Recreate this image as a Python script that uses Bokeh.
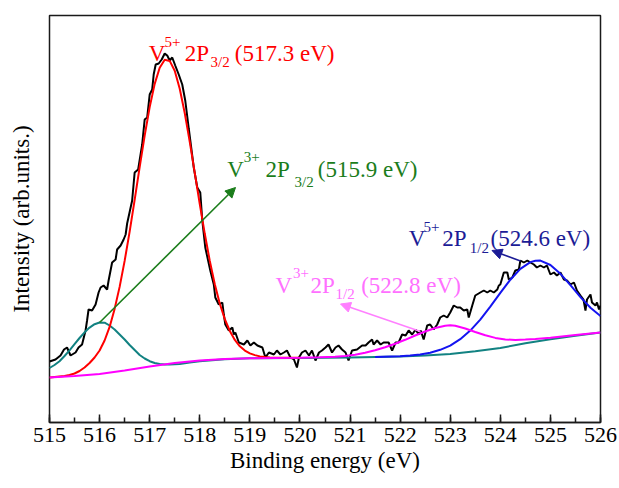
from bokeh.plotting import figure
from bokeh.models import Label, Arrow, NormalHead, SingleIntervalTicker, FixedTicker, Range1d
from bokeh.embed import file_html
from bokeh.resources import INLINE

# ---------------- data ----------------
# Experimental V 2p spectrum: binding energy (eV) / intensity (arb. units)
exp_energy = [515.00, 515.12, 515.22, 515.29, 515.35, 515.42, 515.52, 515.58, 515.65, 515.72,
              515.75, 515.78, 515.85, 515.92, 515.98, 516.02, 516.08, 516.15, 516.18, 516.25,
              516.32, 516.35, 516.42, 516.48, 516.52, 516.55, 516.65, 516.70, 516.77, 516.85,
              516.90, 516.95, 517.00, 517.05, 517.08, 517.12, 517.18, 517.24, 517.30, 517.35,
              517.40, 517.45, 517.51, 517.58, 517.65, 517.71, 517.78, 517.88, 517.95, 518.01,
              518.05, 518.11, 518.21, 518.28, 518.31, 518.38, 518.45, 518.48, 518.51, 518.58,
              518.65, 518.68, 518.71, 518.78, 518.88, 518.95, 519.01, 519.08, 519.15, 519.25,
              519.31, 519.38, 519.48, 519.54, 519.61, 519.68, 519.74, 519.81, 519.88, 519.94,
              519.98, 520.04, 520.11, 520.18, 520.24, 520.31, 520.38, 520.44, 520.51, 520.57,
              520.64, 520.71, 520.77, 520.84, 520.91, 520.97, 521.04, 521.14, 521.24, 521.31,
              521.37, 521.44, 521.47, 521.54, 521.61, 521.67, 521.77, 521.84, 521.91, 521.97,
              522.04, 522.11, 522.17, 522.24, 522.31, 522.37, 522.41, 522.47, 522.54, 522.60,
              522.67, 522.74, 522.80, 522.87, 522.94, 523.00, 523.07, 523.14, 523.20, 523.27,
              523.34, 523.37, 523.44, 523.50, 523.60, 523.67, 523.74, 523.80, 523.87, 523.94,
              523.97, 524.00, 524.07, 524.14, 524.17, 524.24, 524.30, 524.37, 524.40, 524.47,
              524.54, 524.60, 524.67, 524.73, 524.80, 524.87, 524.93, 525.00, 525.07, 525.13,
              525.20, 525.27, 525.33, 525.40, 525.47, 525.53, 525.60, 525.66, 525.70, 525.73,
              525.80, 525.83, 525.90, 525.93, 525.97, 526.00]
exp_intensity = [61, 63, 67, 73, 75, 67, 70, 75, 78, 92,
                 102, 113, 112, 118, 130, 135, 137, 133, 142, 160,
                 163, 173, 177, 183, 188, 199, 222, 250, 253, 278,
                 303, 305, 328, 333, 348, 358, 359, 363, 369, 367,
                 362, 365, 357, 348, 338, 322, 294, 255, 235, 230,
                 202, 175, 152, 138, 125, 118, 120, 108, 98, 92,
                 95, 88, 90, 80, 78, 82, 77, 80, 77, 75,
                 65, 70, 68, 72, 68, 70, 72, 65, 63, 55,
                 65, 70, 72, 67, 72, 62, 70, 72, 75, 78,
                 70, 75, 77, 73, 70, 62, 72, 73, 77, 77,
                 80, 83, 78, 82, 78, 80, 80, 72, 80, 80,
                 88, 87, 92, 88, 93, 88, 92, 83, 97, 98,
                 93, 98, 105, 107, 105, 110, 117, 115, 115, 112,
                 113, 105, 117, 127, 130, 132, 130, 132, 130, 133,
                 137, 138, 150, 150, 143, 145, 152, 153, 162, 160,
                 162, 160, 158, 155, 157, 155, 157, 148, 150, 147,
                 150, 143, 142, 138, 140, 132, 127, 123, 112, 123,
                 128, 120, 117, 120, 113, 117]

# Fit component: V5+ 2p3/2 (517.3 eV) incl. background
v5_32_energy = [515.0, 515.1, 515.2, 515.3, 515.4, 515.5, 515.6, 515.7, 515.8, 515.9,
                516.0, 516.1, 516.2, 516.3, 516.4, 516.5, 516.6, 516.7, 516.8, 516.9,
                517.0, 517.1, 517.2, 517.3, 517.4, 517.5, 517.6, 517.7, 517.8, 517.9,
                518.0, 518.1, 518.2, 518.3, 518.4, 518.5, 518.6, 518.7, 518.8, 518.9,
                519.0, 519.1, 519.2, 519.3, 519.4, 519.5, 519.6, 519.7, 519.8, 519.9, 520.0]
v5_32_fit = [45.1, 45.6, 46.1, 46.6, 47.5, 49.0, 51.5, 55.0, 59.5, 65.0,
             72.0, 82.0, 95.6, 113.6, 135.6, 161.6, 190.9, 222.7, 255.3, 286.9,
             315.4, 338.6, 354.8, 362.7, 361.6, 351.7, 333.7, 309.4, 280.6, 249.7,
             218.5, 188.7, 161.6, 138.2, 118.8, 103.4, 91.5, 82.6, 76.2, 71.9,
             69.1, 67.4, 66.1, 65.5, 65.0, 64.8, 64.7, 64.7, 64.7, 64.7, 64.7]

# Fit component: V3+ 2p3/2 (515.9 eV) incl. background
v3_32_energy = [515.0, 515.1, 515.2, 515.3, 515.4, 515.5, 515.6, 515.7, 515.8, 515.9,
                516.0, 516.1, 516.2, 516.3, 516.4, 516.5, 516.6, 516.7, 516.8, 516.9,
                517.0, 517.1, 517.2, 517.3, 517.4, 517.6, 517.8, 518.0, 518.5, 519.0,
                520.0, 521.0, 522.0, 522.5, 523.0, 523.5, 524.0, 524.5, 525.0, 525.5, 526.0]
v3_32_fit = [54.5, 57.5, 61.3, 66.5, 72.1, 78.3, 84.5, 90.2, 94.9, 98.3,
             100.0, 99.8, 97.0, 93.0, 88.0, 83.0, 77.5, 72.5, 67.5, 64.0,
             61.3, 59.5, 58.5, 58.0, 58.0, 58.6, 60.0, 61.3, 63.2, 64.2,
             64.6, 65.0, 66.0, 67.0, 68.4, 71.2, 74.5, 79.3, 83.3, 86.8, 90.0]

# Fit component: V5+ 2p1/2 (524.6 eV) incl. background
v5_12_energy = [521.5, 522.0, 522.2, 522.4, 522.6, 522.8, 523.0, 523.2, 523.4, 523.6,
                523.8, 524.0, 524.2, 524.4, 524.6, 524.7, 524.8, 525.0, 525.2, 525.4,
                525.6, 525.8, 526.0]
v5_12_fit = [65.5, 66.3, 67.0, 68.1, 69.8, 72.7, 76.9, 83.3, 91.9, 102.9,
             115.9, 129.6, 142.8, 153.6, 160.4, 161.8, 161.9, 157.5, 148.7, 137.3,
             125.4, 114.7, 106.4]

# Fit component: V3+ 2p1/2 (522.8 eV) incl. background
v3_12_energy = [515.0, 515.5, 516.0, 516.5, 517.0, 517.5, 518.0, 518.5, 519.0, 519.5,
                520.0, 520.4, 520.7, 520.9, 521.1, 521.3, 521.5, 521.7, 521.9, 522.1,
                522.3, 522.5, 522.7, 522.9, 523.0, 523.1, 523.3, 523.5, 523.7, 523.9,
                524.1, 524.3, 524.5, 524.7, 525.0, 525.5, 526.0]
v3_12_fit = [45.0, 46.5, 48.5, 52.0, 56.0, 59.5, 62.0, 63.5, 64.3, 64.6,
             64.8, 65.2, 65.8, 66.6, 67.8, 69.8, 72.3, 75.3, 78.8, 82.7,
             87.0, 91.0, 94.5, 96.8, 97.2, 96.8, 94.0, 90.5, 87.2, 84.6,
             83.1, 82.6, 82.9, 83.6, 84.8, 87.4, 90.0]

x_ticks = [515, 516, 517, 518, 519, 520, 521, 522, 523, 524, 525, 526]

# ---------------- styling constants ----------------
X0, X1 = 515.0, 526.0
Y0, Y1 = 0.0, 407.0
FRAME_L, FRAME_R, FRAME_T, FRAME_B = 49.0, 600.0, 15.0, 422.0
SERIF = "Liberation Serif"

RED = "#ff0000"
TEAL = "#128282"
BLUE = "#1414f0"
MAGENTA = "#ff00ff"
GREEN_TXT = "#1b7d1b"
NAVY_TXT = "#1c1c96"
PINK_TXT = "#ff70ff"
PINK_ARROW = "#ff80ff"
AXIS_COL = "#1a1a1a"


def to_data(px, py):
    """Convert a pixel location in the 619x488 canvas into data coordinates."""
    x = X0 + (px - FRAME_L) * (X1 - X0) / (FRAME_R - FRAME_L)
    y = Y0 + (FRAME_B - py) * (Y1 - Y0) / (FRAME_B - FRAME_T)
    return x, y


p = figure(width=619, height=488, output_backend="svg", toolbar_location=None,
           x_range=Range1d(X0, X1), y_range=Range1d(Y0, Y1),
           min_border_left=49, min_border_right=19, min_border_top=15, min_border_bottom=66)
p.background_fill_color = "white"
p.border_fill_color = "white"
p.outline_line_color = AXIS_COL
p.outline_line_width = 1.5
p.xgrid.visible = False
p.ygrid.visible = False

# x axis
ax = p.xaxis[0]
ax.ticker = SingleIntervalTicker(interval=1, num_minor_ticks=2)
ax.major_label_overrides = {t: str(t) for t in x_ticks}
ax.axis_line_width = 1.5
ax.axis_line_color = AXIS_COL
ax.major_tick_in = 8
ax.major_tick_out = 0
ax.minor_tick_in = 5
ax.minor_tick_out = 0
ax.major_tick_line_width = 1.5
ax.minor_tick_line_width = 1.5
ax.major_tick_line_color = AXIS_COL
ax.minor_tick_line_color = AXIS_COL
ax.major_label_text_font = SERIF
ax.major_label_text_font_size = "22px"
ax.major_label_text_color = "black"
ax.major_label_standoff = 5
ax.axis_label = "Binding energy (eV)"
ax.axis_label_text_font = SERIF
ax.axis_label_text_font_size = "23px"
ax.axis_label_text_font_style = "normal"
ax.axis_label_text_color = "black"
ax.axis_label_standoff = 3

# y axis: title only (no ticks / tick labels)
ay = p.yaxis[0]
ay.ticker = FixedTicker(ticks=[])
ay.axis_line_color = None
ay.major_tick_line_color = None
ay.minor_tick_line_color = None
ay.major_label_text_font_size = "0px"
ay.major_label_standoff = 0
ay.axis_label = "Intensity (arb.units.)"
ay.axis_label_text_font = SERIF
ay.axis_label_text_font_size = "23px"
ay.axis_label_text_font_style = "normal"
ay.axis_label_text_color = "black"
ay.axis_label_standoff = 16

# curves
p.line(exp_energy, exp_intensity, line_color="black", line_width=2)
p.line(v3_32_energy, v3_32_fit, line_color=TEAL, line_width=2)
p.line(v5_32_energy, v5_32_fit, line_color=RED, line_width=2)
p.line(v5_12_energy, v5_12_fit, line_color=BLUE, line_width=2)
p.line(v3_12_energy, v3_12_fit, line_color=MAGENTA, line_width=2)

# arrows
teal_peak = max(range(len(v3_32_fit)), key=lambda i: v3_32_fit[i])
arrows = [
    ((v3_32_energy[teal_peak], v3_32_fit[teal_peak]), to_data(235, 187), GREEN_TXT),
    (to_data(420, 331), to_data(340, 303.5), PINK_ARROW),
    (to_data(520, 260.5), to_data(491.5, 250), NAVY_TXT),
]
for (xs, ys), (xe, ye), col in arrows:
    p.add_layout(Arrow(end=NormalHead(size=10, fill_color=col, line_color=col, line_width=1),
                       x_start=xs, y_start=ys, x_end=xe, y_end=ye,
                       line_color=col, line_width=1.6))


# labels with super/subscripts built from pieces: (text, left px, baseline px, size)
def add_rich(parts, color):
    for text, px, py, size in parts:
        x, y = to_data(px, py)
        p.add_layout(Label(x=x, y=y, text=text, text_font=SERIF,
                           text_font_size=f"{size}px", text_color=color,
                           text_align="left", text_baseline="alphabetic"))


add_rich([("V", 148.3, 53.3, 23), ("5+", 164.0, 41.5, 15), ("2P", 184.3, 53.3, 23),
          ("3/2", 210.0, 61.0, 15), ("(517.3 eV)", 234.3, 53.3, 23)], RED)
add_rich([("V", 226.7, 169.3, 23), ("3+", 243.3, 156.5, 15), ("2P", 265.0, 169.3, 23),
          ("3/2", 294.0, 181.5, 15), ("(515.9 eV)", 317.3, 169.3, 23)], GREEN_TXT)
add_rich([("V", 408.3, 238.3, 23), ("5+", 423.0, 226.5, 15), ("2P", 441.7, 238.3, 23),
          ("1/2", 469.3, 247.0, 15), ("(524.6 eV)", 490.0, 238.3, 23)], NAVY_TXT)
add_rich([("V", 275.0, 285.0, 23), ("3+", 292.5, 272.5, 15), ("2P", 310.0, 285.0, 23),
          ("1/2", 335.0, 293.5, 15), ("(522.8 eV)", 360.7, 285.0, 23)], PINK_TXT)

open("out.html", "w").write(file_html(p, INLINE))
